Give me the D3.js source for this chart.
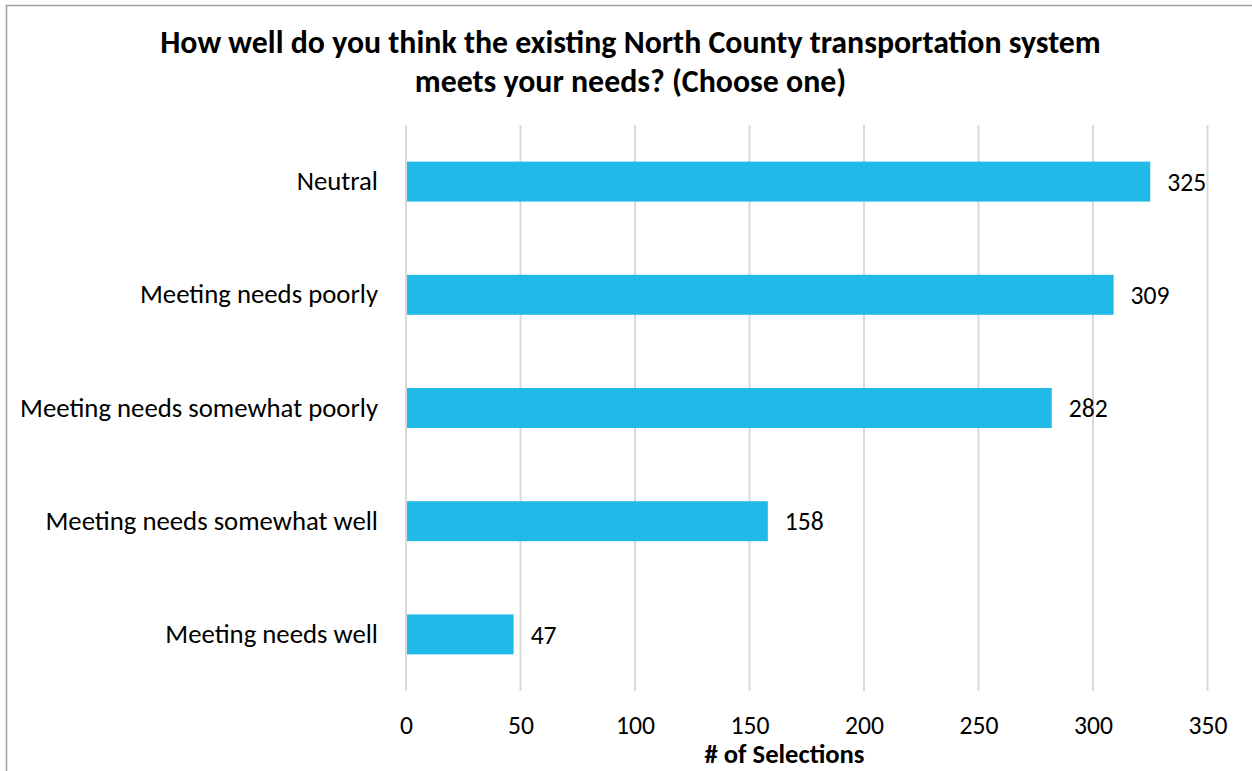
<!DOCTYPE html>
<html>
<head>
<meta charset="utf-8">
<script src="https://cdn.jsdelivr.net/npm/d3@7"></script>
<style>
  html, body { margin: 0; padding: 0; background: #ffffff; }
  svg { display: block; }
  text { font-family: Carlito, Calibri, Lato, "Liberation Sans", sans-serif; fill: #000; }
</style>
</head>
<body>
<svg id="chart" width="1252" height="771"></svg>
<script>
// Survey responses, top to bottom
const categories = [
  "Neutral",
  "Meeting needs poorly",
  "Meeting needs somewhat poorly",
  "Meeting needs somewhat well",
  "Meeting needs well"
];
const selections = [325, 309, 282, 158, 47];
const tickValues = [0, 50, 100, 150, 200, 250, 300, 350];
const titleLines = [
  "How well do you think the existing North County transportation system",
  "meets your needs? (Choose one)"
];
const axisTitle = "# of Selections";

const svg = d3.select("#chart");
const W = 1252, H = 771;
const plot = { left: 406, right: 1207.5, top: 125, bottom: 691 };

// Pick a font size so a sample string renders at a given width
function fitSize(sample, weight, targetWidth) {
  const probe = svg.append("text")
    .attr("font-size", 100)
    .attr("font-weight", weight)
    .text(sample);
  const w = probe.node().getComputedTextLength();
  probe.remove();
  return 100 * targetWidth / w;
}
const titleSize = fitSize(titleLines[0], "bold", 941);
const catSize = fitSize("Meeting needs somewhat poorly", "normal", 358);
const numSize = fitSize("350", "normal", 39);
const axisTitleSize = fitSize(axisTitle, "bold", 160);

// Outer chart frame (left and top edges visible)
svg.append("rect")
  .attr("x", 6.5).attr("y", 5.5)
  .attr("width", W + 20).attr("height", H + 20)
  .attr("fill", "none")
  .attr("stroke", "#a0a0a0")
  .attr("stroke-width", 1.5);

const x = d3.scaleLinear().domain([0, 350]).range([plot.left, plot.right]);
const y = d3.scaleBand()
  .domain(categories)
  .range([plot.top, plot.bottom])
  .paddingInner(0.647)
  .paddingOuter(0.3235);

// Vertical gridlines
svg.append("g")
  .selectAll("line")
  .data(tickValues)
  .join("line")
  .attr("x1", d => x(d)).attr("x2", d => x(d))
  .attr("y1", plot.top).attr("y2", plot.bottom)
  .attr("stroke", "#d9d9d9")
  .attr("stroke-width", 2);

// Bars
svg.append("g")
  .selectAll("rect")
  .data(categories.map((c, i) => ({ c, v: selections[i] })))
  .join("rect")
  .attr("x", x(0) + 1)
  .attr("y", d => y(d.c))
  .attr("width", d => x(d.v) - x(0) - 1)
  .attr("height", y.bandwidth())
  .attr("fill", "#21b9e7");

// Value labels
svg.append("g")
  .selectAll("text")
  .data(categories.map((c, i) => ({ c, v: selections[i] })))
  .join("text")
  .attr("x", d => x(d.v) + 17)
  .attr("y", d => y(d.c) + y.bandwidth() / 2 + numSize * 0.36)
  .attr("font-size", numSize)
  .text(d => d.v);

// Category axis labels
const yAxis = d3.axisLeft(y).tickSize(0).tickPadding(0);
const yg = svg.append("g")
  .attr("transform", `translate(378,0)`)
  .call(yAxis);
yg.select(".domain").remove();
yg.selectAll("text")
  .attr("font-size", catSize)
  .attr("font-family", null)
  .attr("dy", "0.32em");
yg.attr("font-family", null).attr("font-size", null);

// Value axis tick labels
const xAxis = d3.axisBottom(x).tickValues(tickValues).tickSize(0).tickPadding(0);
const xg = svg.append("g")
  .attr("transform", `translate(0,${plot.bottom})`)
  .call(xAxis);
xg.select(".domain").remove();
xg.attr("font-family", null).attr("font-size", null);
xg.selectAll("text")
  .attr("font-size", numSize)
  .attr("y", 43)
  .attr("dy", null);

// Axis title
svg.append("text")
  .attr("x", 784.5)
  .attr("y", 763)
  .attr("text-anchor", "middle")
  .attr("font-weight", "bold")
  .attr("font-size", axisTitleSize)
  .text(axisTitle);

// Chart title
svg.append("g")
  .selectAll("text")
  .data(titleLines)
  .join("text")
  .attr("x", 630.5)
  .attr("y", (d, i) => 53 + i * 39)
  .attr("text-anchor", "middle")
  .attr("font-weight", "bold")
  .attr("font-size", titleSize)
  .text(d => d);
</script>
</body>
</html>
